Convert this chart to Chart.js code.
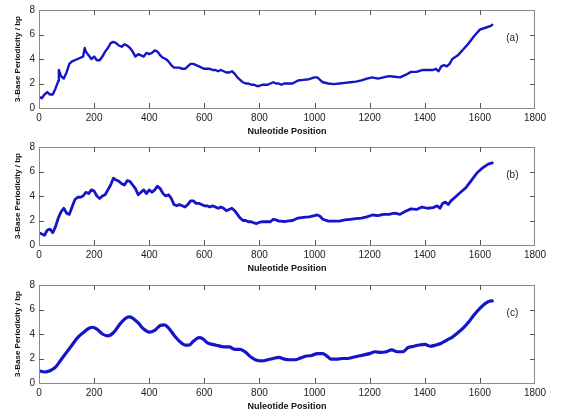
<!DOCTYPE html>
<html>
<head>
<meta charset="utf-8">
<script src="https://cdn.jsdelivr.net/npm/chart.js@4.4.1/dist/chart.umd.min.js"></script>
<style>
  html, body { margin: 0; padding: 0; background: #fff; }
  #wrap { position: relative; width: 566px; height: 416px; background: #fff; }
  .panel { position: absolute; left: 0; width: 566px; height: 137px; }
</style>
</head>
<body>
<div id="wrap">
  <div class="panel" style="top:0px"><canvas id="cA" width="566" height="137"></canvas></div>
  <div class="panel" style="top:137px"><canvas id="cB" width="566" height="137"></canvas></div>
  <div class="panel" style="top:275px"><canvas id="cC" width="566" height="137"></canvas></div>
</div>
<script>
// ---- Data ----
const xTicks = [0, 200, 400, 600, 800, 1000, 1200, 1400, 1600, 1800];
const yTicks = [0, 2, 4, 6, 8];
const panelLabels = ['(a)', '(b)', '(c)'];
const xTitle = 'Nuleotide Position';
const yTitle = '3-Base Periodicity / bp';

const posA = [0,10,20,30,40,50,60,70,72,80,90,100,110,120,130,140,150,160,166,170,180,190,200,210,220,230,240,250,260,270,280,290,300,310,320,330,340,350,360,370,380,390,400,410,420,430,440,450,460,470,480,490,500,510,520,530,540,550,560,570,580,590,600,610,620,630,640,650,660,670,680,690,700,710,720,730,740,750,760,770,780,790,800,810,820,830,840,850,860,870,880,890,900,920,940,960,980,1000,1010,1030,1050,1070,1090,1110,1130,1150,1170,1190,1210,1230,1250,1270,1290,1310,1330,1350,1370,1390,1410,1430,1440,1450,1460,1470,1480,1490,1500,1520,1540,1560,1580,1600,1620,1640,1645];
const valA = [0.9,0.8,1.1,1.3,1.1,1.1,1.6,2.2,3.1,2.6,2.4,2.9,3.6,3.8,3.9,4.0,4.1,4.2,4.9,4.6,4.3,4.0,4.2,3.9,3.9,4.2,4.6,4.9,5.3,5.4,5.3,5.1,5.0,5.2,5.1,4.9,4.6,4.2,4.4,4.3,4.2,4.5,4.4,4.5,4.7,4.6,4.3,4.1,4.0,3.8,3.5,3.3,3.3,3.3,3.2,3.2,3.4,3.6,3.6,3.5,3.4,3.3,3.2,3.2,3.2,3.1,3.1,3.0,3.1,3.0,2.9,2.9,3.0,2.8,2.5,2.3,2.1,2.0,2.0,1.9,1.9,1.8,1.8,1.9,1.9,1.9,2.0,2.1,2.0,2.0,1.9,2.0,2.0,2.0,2.25,2.3,2.35,2.5,2.5,2.1,2.0,1.95,2.0,2.05,2.1,2.15,2.25,2.4,2.5,2.4,2.5,2.6,2.55,2.5,2.7,2.95,2.95,3.1,3.1,3.1,3.2,3.0,3.4,3.5,3.4,3.6,4.0,4.3,4.8,5.3,5.9,6.4,6.55,6.7,6.8];

const posB = [0,10,20,30,40,50,60,70,80,90,100,110,120,130,140,150,160,170,180,190,200,210,220,230,240,250,260,270,280,290,300,310,320,330,340,350,360,370,380,390,400,410,420,430,440,450,460,470,480,490,500,510,520,530,540,550,560,570,580,590,600,610,620,630,640,650,660,670,680,690,700,710,720,730,740,750,760,770,780,790,800,810,820,830,840,850,860,870,880,890,900,920,940,960,980,1000,1010,1020,1030,1050,1070,1090,1110,1130,1150,1170,1190,1210,1230,1250,1270,1290,1310,1330,1350,1370,1390,1410,1430,1445,1455,1465,1475,1485,1495,1510,1530,1550,1570,1590,1610,1630,1645];
const valB = [1.0,0.9,0.8,1.2,1.3,1.0,1.5,2.2,2.7,3.0,2.6,2.5,3.1,3.7,3.9,3.9,4.0,4.3,4.2,4.5,4.4,4.0,3.8,4.0,4.1,4.5,4.9,5.45,5.3,5.2,5.0,4.9,5.25,5.2,4.9,4.6,4.1,4.3,4.5,4.2,4.5,4.3,4.5,4.8,4.6,4.2,4.0,4.1,3.8,3.3,3.2,3.3,3.2,3.1,3.3,3.6,3.6,3.4,3.4,3.3,3.2,3.2,3.1,3.2,3.1,3.0,3.1,3.0,2.8,2.9,3.0,2.8,2.5,2.2,2.0,2.0,1.9,1.9,1.8,1.75,1.85,1.9,1.9,1.9,1.9,2.1,2.05,1.95,1.95,1.9,1.95,2.0,2.2,2.25,2.3,2.4,2.45,2.35,2.1,1.95,1.95,1.95,2.05,2.1,2.15,2.2,2.3,2.45,2.4,2.5,2.5,2.6,2.5,2.75,2.95,2.9,3.1,3.0,3.05,3.2,3.0,3.4,3.5,3.3,3.6,3.9,4.3,4.7,5.3,5.9,6.3,6.6,6.7];

const posC = [0,20,40,60,80,100,120,140,160,180,195,210,230,250,270,290,310,325,340,360,380,400,420,440,455,470,490,510,530,545,560,580,595,610,630,650,670,690,710,730,750,770,790,810,830,850,870,890,910,930,950,970,990,1010,1030,1045,1060,1080,1100,1120,1140,1160,1180,1200,1220,1240,1260,1280,1300,1320,1340,1360,1380,1400,1420,1440,1460,1480,1500,1520,1540,1560,1580,1600,1620,1640,1645];
const valC = [1.0,0.9,1.0,1.3,1.9,2.5,3.1,3.7,4.1,4.45,4.55,4.4,4.0,3.85,4.1,4.7,5.2,5.4,5.3,4.9,4.4,4.15,4.3,4.7,4.75,4.5,3.9,3.4,3.1,3.1,3.4,3.7,3.6,3.3,3.15,3.05,2.95,2.95,2.75,2.75,2.5,2.1,1.85,1.8,1.9,2.0,2.1,1.95,1.9,1.9,2.05,2.2,2.25,2.4,2.4,2.2,1.95,1.95,2.0,2.0,2.1,2.2,2.3,2.4,2.55,2.5,2.55,2.7,2.55,2.55,2.9,3.0,3.1,3.15,3.0,3.1,3.25,3.5,3.75,4.1,4.5,5.0,5.6,6.1,6.5,6.7,6.7];

// ---- Drawing ----
const FONT = "'Liberation Sans', Arial, sans-serif";
const LINE = '#1414c8';

const framePlugin = {
  id: 'matlabFrame',
  afterDraw(chart, args, opts) {
    const { ctx, chartArea: a, scales: { x, y } } = chart;
    ctx.save();
    ctx.strokeStyle = '#8a8a8a';
    ctx.lineWidth = 1;
    ctx.strokeRect(Math.round(a.left) + 0.5, Math.round(a.top) + 0.5,
                   Math.round(a.right - a.left) - 1, Math.round(a.bottom - a.top));
    ctx.strokeStyle = '#555';
    const tl = 5;
    ctx.beginPath();
    x.ticks.forEach(t => {
      const px = Math.round(x.getPixelForValue(t.value)) + 0.5;
      if (px <= a.left + 1 || px >= a.right - 1) return;
      ctx.moveTo(px, a.top); ctx.lineTo(px, a.top + tl);
      ctx.moveTo(px, a.bottom); ctx.lineTo(px, a.bottom - tl);
    });
    y.ticks.forEach(t => {
      const py = Math.round(y.getPixelForValue(t.value)) + 0.5;
      if (py <= a.top + 1 || py >= a.bottom - 1) return;
      ctx.moveTo(a.left, py); ctx.lineTo(a.left + tl, py);
      ctx.moveTo(a.right, py); ctx.lineTo(a.right - tl, py);
    });
    ctx.stroke();
    if (opts && opts.text) {
      ctx.fillStyle = '#222';
      ctx.font = '10px ' + FONT;
      ctx.textAlign = 'center';
      ctx.textBaseline = 'middle';
      ctx.fillText(opts.text, x.getPixelForValue(opts.x), y.getPixelForValue(opts.y));
    }
    ctx.restore();
  }
};

function makePanel(id, pos, val, label, width, smooth) {
  const data = pos.map((p, i) => ({ x: p, y: val[i] }));
  new Chart(document.getElementById(id), {
    type: 'line',
    data: { datasets: [{ data, borderColor: LINE, borderWidth: width, pointRadius: 0,
      tension: smooth ? 0.4 : 0, cubicInterpolationMode: smooth ? 'monotone' : 'default',
      borderJoinStyle: 'round', borderCapStyle: 'round', fill: false }] },
    options: {
      responsive: false,
      animation: false,
      layout: { padding: { top: 5, right: 31, left: 13, bottom: 0 } },
      plugins: {
        legend: { display: false },
        tooltip: { enabled: false },
        matlabFrame: { text: label, x: 1718, y: 5.7 }
      },
      scales: {
        x: {
          type: 'linear', min: 0, max: 1800,
          afterBuildTicks(s) { s.ticks = xTicks.map(v => ({ value: v })); },
          afterFit(s) { s.height = 29; },
          grid: { display: false, drawTicks: false },
          border: { display: false },
          ticks: { color: '#222', font: { family: FONT, size: 10 }, padding: 4, maxRotation: 0, autoSkip: false,
                   callback: v => String(v) },
          title: { display: true, text: xTitle, color: '#111', font: { family: FONT, size: 9, weight: 'bold' }, padding: 0 }
        },
        y: {
          type: 'linear', min: 0, max: 8,
          afterBuildTicks(s) { s.ticks = yTicks.map(v => ({ value: v })); },
          afterFit(s) { s.width = 26; },
          grid: { display: false, drawTicks: false },
          border: { display: false },
          ticks: { color: '#222', font: { family: FONT, size: 10 }, padding: 4, callback: v => String(v) },
          title: { display: true, text: yTitle, color: '#111', font: { family: FONT, size: 8, weight: 'bold' }, padding: 0 }
        }
      }
    },
    plugins: [framePlugin]
  });
}

makePanel('cA', posA, valA, panelLabels[0], 2.4, false);
makePanel('cB', posB, valB, panelLabels[1], 2.8, false);
makePanel('cC', posC, valC, panelLabels[2], 3.2, true);
</script>
</body>
</html>
